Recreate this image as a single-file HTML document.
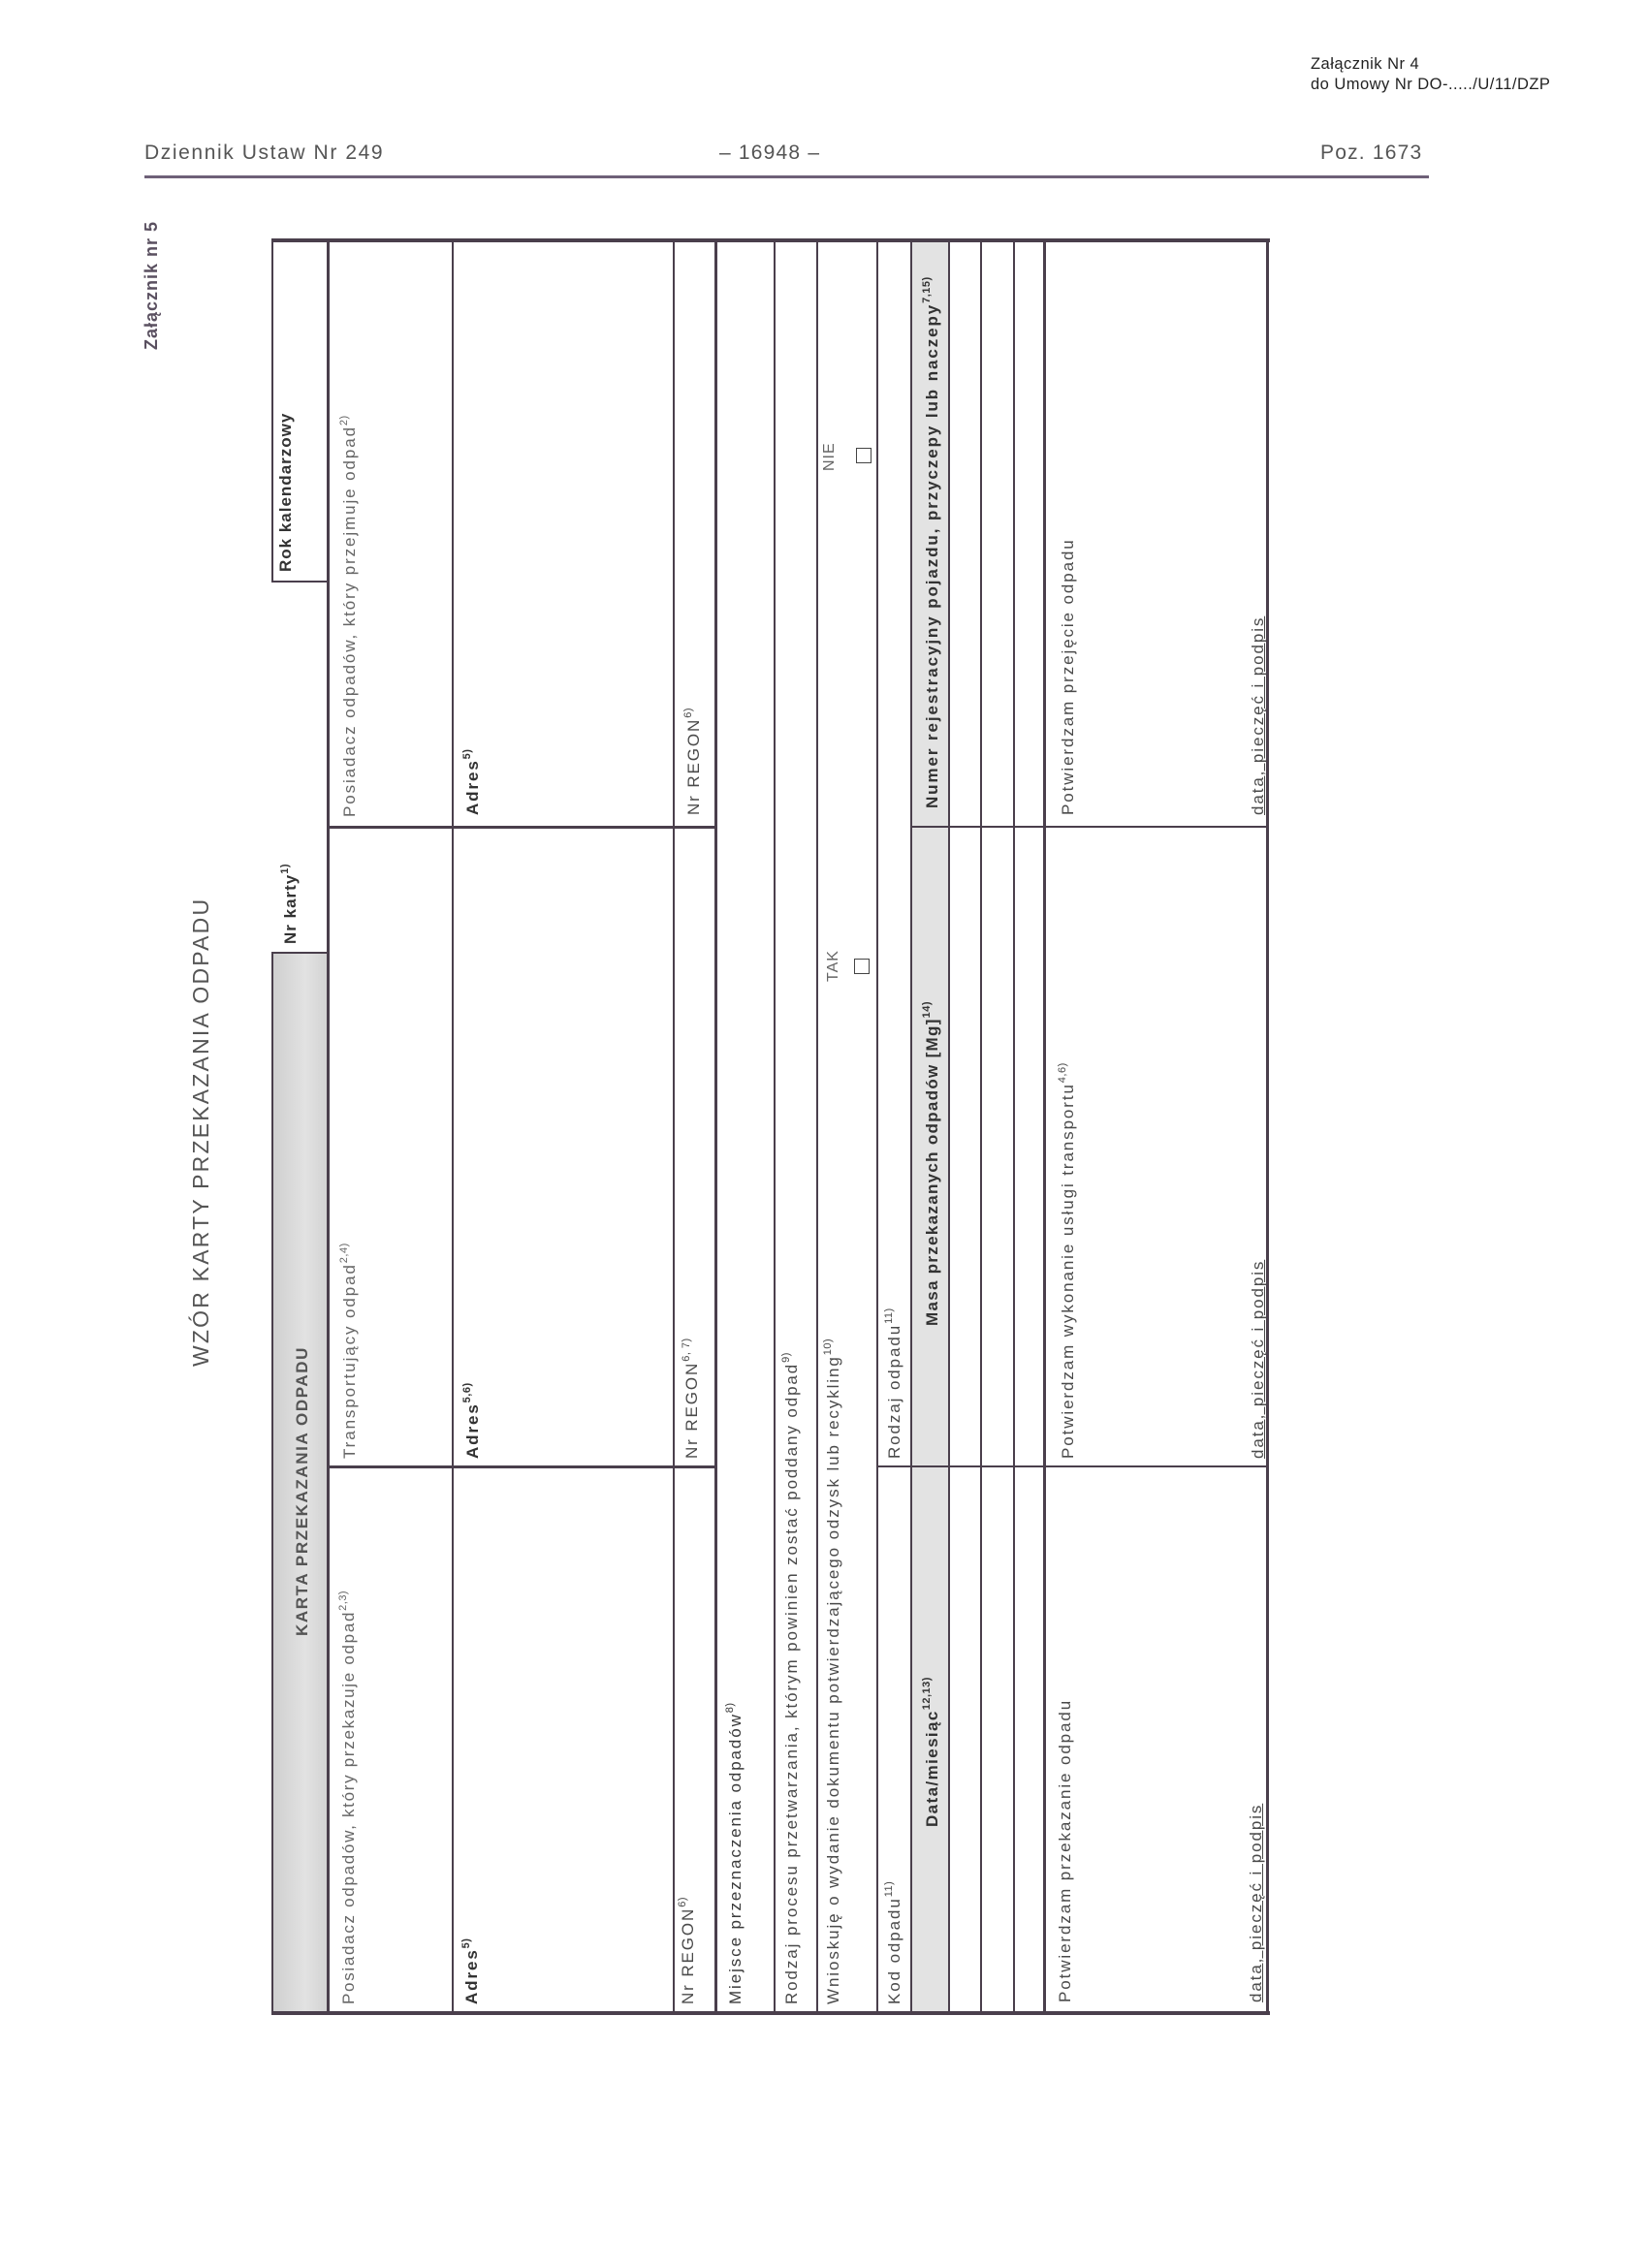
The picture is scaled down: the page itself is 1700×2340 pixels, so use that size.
<!DOCTYPE html>
<html><head><meta charset="utf-8">
<style>
html,body{margin:0;padding:0;background:#fff;}
body{width:1700px;height:2340px;position:relative;overflow:hidden;font-family:"Liberation Sans",sans-serif;}
.a{position:absolute;}
.r{position:absolute;transform-origin:0 0;transform:rotate(-90deg);white-space:nowrap;line-height:1;color:#4a4a4a;font-size:17px;letter-spacing:1.9px;}
.b{font-weight:bold;color:#333;}
.l{color:#666;}
sup{font-size:11px;vertical-align:0;position:relative;top:-8px;letter-spacing:0.5px;}
.h{position:absolute;background:#4a3f4c;}
.v{position:absolute;background:#4a3f4c;}
.box{position:absolute;border:1.5px solid #444;width:14px;height:14px;}
</style></head><body>

<div class="a" style="left:1352px;top:55px;font-size:17px;color:#222;line-height:21px;white-space:nowrap;transform:scaleX(0.97);transform-origin:0 0;letter-spacing:0.5px;">Załącznik Nr 4<br>do Umowy Nr DO-...../U/11/DZP</div>

<div class="a" style="left:149px;top:146px;font-size:21px;color:#555;white-space:nowrap;letter-spacing:1.6px;">Dziennik Ustaw Nr 249</div>
<div class="a" style="left:742px;top:146px;font-size:21px;color:#555;white-space:nowrap;letter-spacing:1.2px;">– 16948 –</div>
<div class="a" style="left:1362px;top:146px;font-size:21px;color:#555;white-space:nowrap;letter-spacing:1.2px;">Poz. 1673</div>
<div class="h" style="left:149px;top:181px;width:1325px;height:3px;background:#6e6078;"></div>

<div class="r b" style="left:147px;top:361px;font-size:18px;color:#5a5060;letter-spacing:1px;">Załącznik nr 5</div>
<div class="r" style="left:196px;top:1410px;font-size:23px;color:#555;letter-spacing:2.2px;">WZÓR KARTY PRZEKAZANIA ODPADU</div>

<div class="a" style="left:281px;top:983px;width:57px;height:1095px;background:linear-gradient(90deg,#cfcfcf,#e2e2e2 60%,#d2d2d2);"></div>
<div class="a" style="left:939px;top:247px;width:39px;height:1831px;background:#e3e3e3;"></div>

<div class="h" style="left:280px;top:246px;width:1030px;height:4px;"></div>
<div class="h" style="left:280px;top:2075px;width:1030px;height:4px;"></div>
<div class="v" style="left:1306px;top:246px;width:3px;height:1833px;"></div>
<div class="v" style="left:280px;top:246px;width:2px;height:355px;"></div>
<div class="v" style="left:280px;top:983px;width:2px;height:1095px;"></div>
<div class="h" style="left:280px;top:599px;width:58px;height:2px;"></div>
<div class="h" style="left:280px;top:982px;width:58px;height:2px;"></div>

<div class="v" style="left:337px;top:246px;width:3px;height:1833px;"></div>
<div class="v" style="left:466px;top:246px;width:1.5px;height:1833px;"></div>
<div class="v" style="left:694px;top:246px;width:1.5px;height:1833px;"></div>
<div class="v" style="left:737px;top:246px;width:3px;height:1833px;"></div>
<div class="v" style="left:798px;top:246px;width:1.5px;height:1833px;"></div>
<div class="v" style="left:842px;top:246px;width:1.5px;height:1833px;"></div>
<div class="v" style="left:904px;top:246px;width:1.5px;height:1833px;"></div>
<div class="v" style="left:939px;top:246px;width:1.5px;height:1833px;"></div>
<div class="v" style="left:978px;top:246px;width:1.5px;height:1833px;"></div>
<div class="v" style="left:1011px;top:246px;width:1.5px;height:1833px;"></div>
<div class="v" style="left:1045px;top:246px;width:1.5px;height:1833px;"></div>
<div class="v" style="left:1076px;top:246px;width:2.5px;height:1833px;"></div>

<div class="h" style="left:338px;top:1512px;width:401px;height:3px;"></div>
<div class="h" style="left:904px;top:1512px;width:404px;height:2px;"></div>
<div class="h" style="left:338px;top:852px;width:401px;height:3px;"></div>
<div class="h" style="left:939px;top:852px;width:369px;height:2px;"></div>

<div class="r b" style="left:303px;top:1688px;color:#555;letter-spacing:1.6px;">KARTA PRZEKAZANIA ODPADU</div>
<div class="r b" style="left:291px;top:974px;letter-spacing:1px;">Nr karty<sup>1)</sup></div>
<div class="r b" style="left:286px;top:590px;letter-spacing:1px;">Rok kalendarzowy</div>

<div class="r l" style="left:351px;top:2068px;letter-spacing:1.7px;">Posiadacz odpadów, który przekazuje odpad<sup>2,3)</sup></div>
<div class="r b" style="left:478px;top:2068px;">Adres<sup>5)</sup></div>
<div class="r" style="left:701px;top:2068px;">Nr REGON<sup>6)</sup></div>

<div class="r l" style="left:352px;top:1505px;">Transportujący odpad<sup>2,4)</sup></div>
<div class="r b" style="left:479px;top:1505px;">Adres<sup>5,6)</sup></div>
<div class="r" style="left:705px;top:1505px;">Nr REGON<sup>6, 7)</sup></div>

<div class="r l" style="left:352px;top:843px;">Posiadacz odpadów, który przejmuje odpad<sup>2)</sup></div>
<div class="r b" style="left:479px;top:841px;">Adres<sup>5)</sup></div>
<div class="r" style="left:707px;top:841px;">Nr REGON<sup>6)</sup></div>

<div class="r" style="left:750px;top:2068px;color:#3a3a3a;">Miejsce przeznaczenia odpadów<sup>8)</sup></div>
<div class="r" style="left:808px;top:2068px;">Rodzaj procesu przetwarzania, którym powinien zostać poddany odpad<sup>9)</sup></div>
<div class="r" style="left:851px;top:2068px;">Wnioskuję o wydanie dokumentu potwierdzającego odzysk lub recykling<sup>10)</sup></div>
<div class="r l" style="left:852px;top:1013px;font-size:16px;letter-spacing:1px;">TAK</div>
<div class="box" style="left:881px;top:989px;"></div>
<div class="r l" style="left:848px;top:486px;font-size:16px;letter-spacing:1px;">NIE</div>
<div class="box" style="left:883px;top:462px;"></div>

<div class="r" style="left:914px;top:2068px;">Kod odpadu<sup>11)</sup></div>
<div class="r" style="left:914px;top:1505px;">Rodzaj odpadu<sup>11)</sup></div>

<div class="r b" style="left:953px;top:1885px;letter-spacing:1.4px;">Data/miesiąc<sup>12,13)</sup></div>
<div class="r b" style="left:953px;top:1368px;letter-spacing:1.3px;">Masa przekazanych odpadów [Mg]<sup>14)</sup></div>
<div class="r b" style="left:953px;top:834px;">Numer rejestracyjny pojazdu, przyczepy lub naczepy<sup>7,15)</sup></div>

<div class="r" style="left:1090px;top:2066px;">Potwierdzam przekazanie odpadu</div>
<div class="r" style="left:1287px;top:2066px;text-decoration:underline;">data, pieczęć i podpis</div>
<div class="r" style="left:1093px;top:1505px;">Potwierdzam wykonanie usługi transportu<sup>4,6)</sup></div>
<div class="r" style="left:1289px;top:1505px;text-decoration:underline;">data, pieczęć i podpis</div>
<div class="r" style="left:1093px;top:841px;">Potwierdzam przejęcie odpadu</div>
<div class="r" style="left:1289px;top:841px;text-decoration:underline;">data, pieczęć i podpis</div>

</body></html>
